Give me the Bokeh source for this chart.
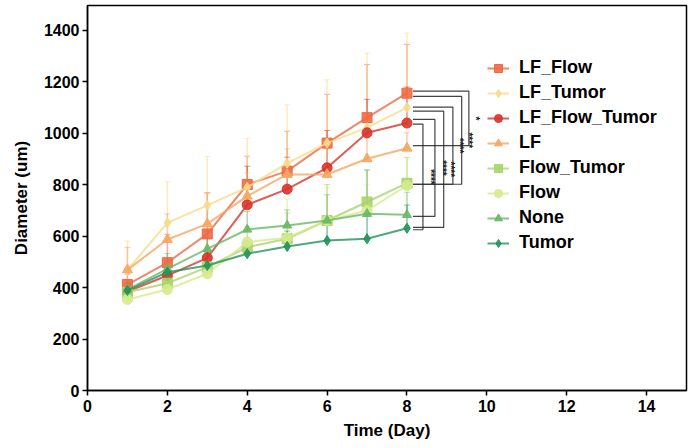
import math
from bokeh.plotting import figure
from bokeh.models import (ColumnDataSource, Whisker, TeeHead, Legend, LegendItem,
                          Range1d, FixedTicker)
from bokeh.core.properties import value
from bokeh.embed import file_html
from bokeh.resources import INLINE

days = [1, 2, 3, 4, 5, 6, 7, 8]

series_names = ["LF_Flow", "LF_Tumor", "LF_Flow_Tumor", "LF",
                "Flow_Tumor", "Flow", "None", "Tumor"]

lf_flow = [412, 497, 609, 801, 853, 962, 1061, 1156]
lf_tumor = [469, 652, 720, 790, 884, 962, 1022, 1100]
lf_flow_tumor = [385, 447, 516, 722, 783, 866, 1002, 1040]
lf = [469, 587, 648, 756, 840, 840, 901, 942]
flow_tumor = [382, 417, 480, 557, 590, 661, 733, 806]
flow = [354, 393, 454, 577, 594, 661, 700, 797]
none = [392, 473, 551, 626, 642, 661, 687, 683]
tumor = [389, 460, 486, 532, 560, 583, 590, 631]

err_lf_flow = [40, 110, 160, 110, 155, 190, 207, 190]
err_lf_tumor = [112, 160, 190, 190, 227, 246, 290, 290]
err_lf_flow_tumor = [30, 60, 80, 150, 124, 145, 130, 140]
err_lf = [88, 100, 120, 90, 100, 100, 80, 60]
err_flow_tumor = [30, 40, 60, 80, 100, 140, 125, 100]
err_flow = [30, 40, 50, 60, 150, 130, 100, 110]
err_none = [40, 60, 70, 70, 60, 100, 170, 88]
err_tumor = [30, 40, 50, 50, 60, 80, 100, 90]

x_ticks = [0, 2, 4, 6, 8, 10, 12, 14]
y_ticks = [0, 200, 400, 600, 800, 1000, 1200, 1400]

# significance brackets: (upper group, lower group, label)
brackets = [("LF_Flow", "LF", "*"),
            ("LF_Flow", "Flow_Tumor", "****"),
            ("LF_Tumor", "Flow_Tumor", "****"),
            ("LF_Tumor", "Tumor", "****"),
            ("LF_Flow_Tumor", "None", "****"),
            ("LF_Flow_Tumor", "Tumor", "****")]

values = [lf_flow, lf_tumor, lf_flow_tumor, lf, flow_tumor, flow, none, tumor]
errors = [err_lf_flow, err_lf_tumor, err_lf_flow_tumor, err_lf,
          err_flow_tumor, err_flow, err_none, err_tumor]
colors = ["#EE6A45", "#F7DC8A", "#D7342A", "#F6A660",
          "#A8D46A", "#D6EA8E", "#69B966", "#23945A"]
markers = ["square", "diamond", "circle", "triangle",
           "square", "circle", "triangle", "diamond"]
msizes = [10, 10, 10, 10, 10, 10, 9, 10]

FONT = "Liberation Sans"

p = figure(width=692, height=448, output_backend="svg", toolbar_location=None,
           x_range=Range1d(0, 15.0), y_range=Range1d(0, 1497),
           min_border_left=87, min_border_right=6, min_border_top=5,
           min_border_bottom=58)
p.xgrid.visible = False
p.ygrid.visible = False
p.outline_line_color = "black"
p.outline_line_width = 1.5
p.background_fill_color = "white"

for ax in (p.xaxis[0], p.yaxis[0]):
    ax.axis_line_width = 1.5
    ax.major_tick_line_width = 1.5
    ax.major_tick_out = 5
    ax.major_tick_in = 0
    ax.minor_tick_line_color = None
    ax.major_label_text_font = FONT
    ax.major_label_text_font_style = "bold"
    ax.major_label_text_font_size = "16px"
    ax.major_label_text_color = "black"
    ax.axis_label_text_font = FONT
    ax.axis_label_text_font_style = "bold"
    ax.axis_label_text_font_size = "17px"
    ax.axis_label_text_color = "black"
p.xaxis.ticker = FixedTicker(ticks=x_ticks)
p.yaxis.ticker = FixedTicker(ticks=y_ticks)
p.xaxis.axis_label = "Time (Day)"
p.yaxis.axis_label = "Diameter (um)"
p.xaxis.major_label_standoff = 4
p.yaxis.major_label_standoff = 3
p.xaxis.axis_label_standoff = 6
p.yaxis.axis_label_standoff = 10

items = []
for name, vals, errs, col, mk, ms in zip(series_names, values, errors, colors, markers, msizes):
    src = ColumnDataSource(dict(x=days, y=vals, up=[v + e for v, e in zip(vals, errs)]))
    w = Whisker(source=src, base="x", upper="up", lower="y", dimension="height",
                line_color=col, line_alpha=0.55, line_width=1.5, level="underlay",
                upper_head=TeeHead(size=6, line_color=col, line_alpha=0.55, line_width=1),
                lower_head=None)
    p.add_layout(w)
    ln = p.line("x", "y", source=src, line_color=col, line_width=2, line_alpha=0.8)
    sc = p.scatter("x", "y", source=src, marker=mk, size=ms, fill_color=col,
                   line_color=col, fill_alpha=0.9)
    items.append(LegendItem(label=name, renderers=[ln, sc]))

last = {n: v[-1] for n, v in zip(series_names, values)}
bx = [9.55, 9.37, 9.15, 8.92, 8.70, 8.40]
start_off = [8, -12, 2, -14, 14, -4]
end_off = [10, -4, -4, 3, -6, -6]
x0 = 8.15
xs, ys, tx, ty, tt = [], [], [], [], []
for (a, b, lab), xb, so, eo in zip(brackets, bx, start_off, end_off):
    ya = last[a] + so
    yb = last[b] + eo
    xs.append([x0, xb, xb, x0])
    ys.append([ya, ya, yb, yb])
    tx.append(xb + 0.04)
    ty.append((ya + yb) / 2)
    tt.append(lab)
p.multi_line(xs, ys, line_color="#222222", line_width=1.2, line_alpha=0.85)
p.text(tx, ty, text=tt, angle=-math.pi / 2, text_font=value(FONT),
       text_font_size="10px", text_font_style="bold", text_align="center",
       text_baseline="bottom", text_color="#222222")

legend = Legend(items=items, location=(400, 137), padding=0, margin=0,
                spacing=4, glyph_width=22, glyph_height=20, label_height=20,
                label_standoff=10, border_line_alpha=0,
                background_fill_alpha=0, label_text_font=FONT,
                label_text_font_style="bold", label_text_font_size="18px",
                label_text_color="black")
p.add_layout(legend)

open("out.html", "w").write(file_html(p, INLINE))
